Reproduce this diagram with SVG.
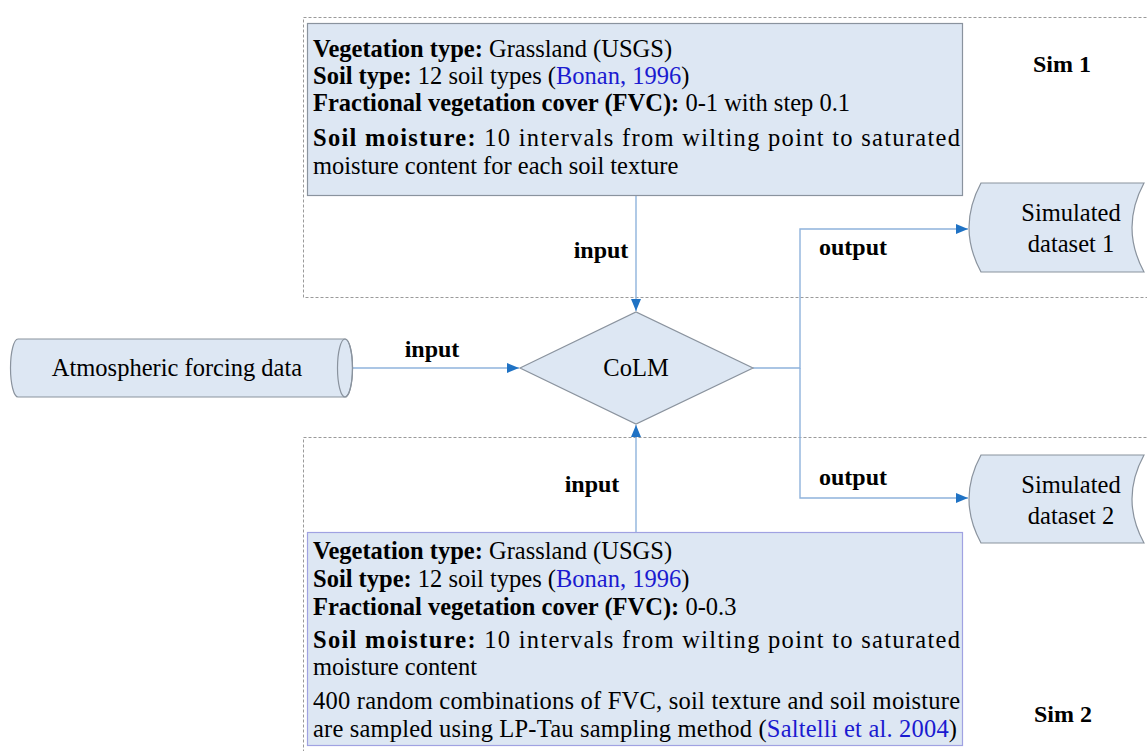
<svg xmlns="http://www.w3.org/2000/svg" width="1147" height="751" viewBox="0 0 1147 751">
<style>
text{font-family:"Liberation Serif","Times New Roman",serif;fill:#000;}
.t{font-size:24.5px;}
.b{font-weight:bold;}
.lbl{font-size:24px;font-weight:bold;}
.lnk{fill:#1a1ad0;}
.dash{fill:none;stroke:#9a9a9a;stroke-width:1;stroke-dasharray:3 2;}
.shape{fill:#dde7f3;stroke:#8a939e;stroke-width:1.2;}
.conn{fill:none;stroke:#8fb3dc;stroke-width:1.4;}
</style>
<defs>
<marker id="arr" viewBox="0 0 12 10" refX="12" refY="5" markerWidth="12" markerHeight="10" markerUnits="userSpaceOnUse" orient="auto">
<path d="M0,0 L12,5 L0,10 Z" fill="#1f72c4"/>
</marker>
</defs>
<g id="sim1-frame"><rect class="dash" x="303.5" y="17.5" width="860" height="280"/></g>
<g id="sim2-frame"><rect class="dash" x="303.5" y="437.5" width="860" height="330"/></g>
<g id="connectors">
<path class="conn" d="M352,368 L519,368" marker-end="url(#arr)"/>
<path class="conn" d="M636,195 L636,311" marker-end="url(#arr)"/>
<path class="conn" d="M636,532 L636,425" marker-end="url(#arr)"/>
<path class="conn" d="M753,368 L800,368 L800,229 L968,229" marker-end="url(#arr)"/>
<path class="conn" d="M800,368 L800,498 L968,498" marker-end="url(#arr)"/>
<text class="lbl" x="432" y="357" text-anchor="middle">input</text>
<text class="lbl" x="601" y="258" text-anchor="middle">input</text>
<text class="lbl" x="592" y="492" text-anchor="middle">input</text>
<text class="lbl" x="853" y="255" text-anchor="middle">output</text>
<text class="lbl" x="853" y="485" text-anchor="middle">output</text>
</g>
<g id="sim1-params">
<rect class="shape" x="307.5" y="23.5" width="655" height="172"/>
<text class="t" x="313" y="57"><tspan class="b">Vegetation type:</tspan> Grassland (USGS)</text>
<text class="t" x="313" y="84"><tspan class="b">Soil type:</tspan> 12 soil types (<tspan class="lnk">Bonan, 1996</tspan>)</text>
<text class="t" x="313" y="111"><tspan class="b">Fractional vegetation cover (FVC):</tspan> 0-1 with step 0.1</text>
<text class="t" x="313" y="146" textLength="647" lengthAdjust="spacing"><tspan class="b">Soil moisture:</tspan> 10 intervals from wilting point to saturated</text>
<text class="t" x="313" y="174">moisture content for each soil texture</text>
</g>
<g id="sim1-label"><text class="lbl" x="1033" y="72">Sim 1</text></g>
<g id="sim2-params">
<rect class="shape" x="307.5" y="532.5" width="655" height="213" style="stroke:#a0a2e2"/>
<text class="t" x="313" y="559"><tspan class="b">Vegetation type:</tspan> Grassland (USGS)</text>
<text class="t" x="313" y="587"><tspan class="b">Soil type:</tspan> 12 soil types (<tspan class="lnk">Bonan, 1996</tspan>)</text>
<text class="t" x="313" y="615"><tspan class="b">Fractional vegetation cover (FVC):</tspan> 0-0.3</text>
<text class="t" x="313" y="648" textLength="647" lengthAdjust="spacing"><tspan class="b">Soil moisture:</tspan> 10 intervals from wilting point to saturated</text>
<text class="t" x="313" y="675">moisture content</text>
<text class="t" x="313" y="709" textLength="647" lengthAdjust="spacing">400 random combinations of FVC, soil texture and soil moisture</text>
<text class="t" x="313" y="737" textLength="644" lengthAdjust="spacing">are sampled using LP-Tau sampling method (<tspan class="lnk">Saltelli et al. 2004</tspan>)</text>
</g>
<g id="sim2-label"><text class="lbl" x="1034" y="722">Sim 2</text></g>
<g id="forcing">
<path class="shape" d="M18,339 L345,339 A7.5,29 0 0 1 345,397 L18,397 A7.5,29 0 0 1 18,339 Z"/>
<ellipse cx="345" cy="368" rx="7.5" ry="29" fill="none" stroke="#8a939e" stroke-width="1.2"/>
<text class="t" x="177" y="376" text-anchor="middle">Atmospheric forcing data</text>
</g>
<g id="colm">
<path class="shape" d="M520,368 L636,312 L753,368 L636,424 Z"/>
<text class="t" x="636" y="376" text-anchor="middle">CoLM</text>
</g>
<g id="dataset1">
<path class="shape" d="M981,183 L1144,183 Q1120,227.5 1144,272 L981,272 Q957,227.5 981,183 Z"/>
<text class="t" x="1071" y="221" text-anchor="middle">Simulated</text>
<text class="t" x="1071" y="252" text-anchor="middle">dataset 1</text>
</g>
<g id="dataset2">
<path class="shape" d="M981,455 L1144,455 Q1120,499 1144,543 L981,543 Q957,499 981,455 Z"/>
<text class="t" x="1071" y="493" text-anchor="middle">Simulated</text>
<text class="t" x="1071" y="524" text-anchor="middle">dataset 2</text>
</g>
</svg>
